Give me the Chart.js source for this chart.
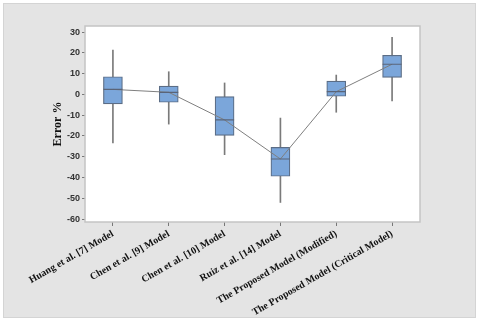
<!DOCTYPE html>
<html>
<head>
<meta charset="utf-8">
<script src="https://cdn.jsdelivr.net/npm/chart.js@4/dist/chart.umd.min.js"></script>
<style>
html,body{margin:0;padding:0;background:#fff;}
#wrap{width:480px;height:324px;position:relative;}
</style>
</head>
<body>
<div id="wrap"><canvas id="c" width="480" height="324"></canvas></div>
<script>
const categories = [
  "Huang et al. [7] Model",
  "Chen et al. [9] Model",
  "Chen et al. [10] Model",
  "Ruiz et al. [14] Model",
  "The Proposed Model (Modified)",
  "The Proposed Model (Critical Model)"
];
const whiskerLow  = [-23.3, -14.3, -29.0, -52.0, -8.6, -3.1];
const q1          = [-4.6, -3.8, -19.7, -39.4, -0.9, 8.2];
const median      = [2.4, 1.0, -12.3, -31.1, 1.3, 14.5];
const q3          = [8.5, 4.0, -1.1, -25.5, 6.4, 18.8];
const whiskerHigh = [21.3, 10.9, 5.5, -11.4, 9.3, 27.4];
const yTicks = [-60, -50, -40, -30, -20, -10, 0, 10, 20, 30];

const boxes = q1.map((v, i) => [v, q3[i]]);
const whiskers = whiskerLow.map((v, i) => [v, whiskerHigh[i]]);

const framePlugin = {
  id: 'frame',
  beforeDraw(chart) {
    const ctx = chart.ctx;
    const a = chart.chartArea;
    ctx.save();
    ctx.fillStyle = '#ffffff';
    ctx.fillRect(0, 0, chart.width, chart.height);
    ctx.fillStyle = '#e4e4e4';
    ctx.fillRect(3, 3, 473, 315);
    ctx.strokeStyle = '#d4d4d4';
    ctx.lineWidth = 1;
    ctx.strokeRect(3.5, 3.5, 472, 314);
    ctx.fillStyle = '#ffffff';
    ctx.fillRect(a.left, a.top, a.right - a.left, a.bottom - a.top);
    ctx.restore();
  },
  afterDraw(chart) {
    const ctx = chart.ctx;
    const a = chart.chartArea;
    ctx.save();
    ctx.strokeStyle = '#c4c4c4';
    ctx.lineWidth = 1.5;
    ctx.strokeRect(a.left, a.top, a.right - a.left, a.bottom - a.top);
    ctx.restore();
  }
};

new Chart(document.getElementById('c'), {
  type: 'bar',
  data: {
    labels: categories,
    datasets: [
      {
        type: 'line',
        data: median,
        borderColor: '#7f7f7f',
        borderWidth: 1,
        tension: 0,
        pointStyle: 'line',
        pointRadius: 9.5,
        pointBorderColor: '#5a6478',
        pointBorderWidth: 1.2,
        pointBackgroundColor: '#5a6478'
      },
      {
        data: boxes,
        grouped: false,
        barThickness: 19,
        backgroundColor: '#7ba6da',
        borderColor: '#5b6d86',
        borderWidth: 1.2,
        borderSkipped: false
      },
      {
        data: whiskers,
        grouped: false,
        barThickness: 1,
        backgroundColor: '#7a7a7a',
        borderWidth: 0
      }
    ]
  },
  options: {
    responsive: false,
    animation: false,
    devicePixelRatio: 1,
    layout: { padding: { left: 0, right: 60, top: 26, bottom: 0 } },
    plugins: { legend: { display: false }, tooltip: { enabled: false } },
    scales: {
      x: {
        offset: true,
        grid: { display: true, drawOnChartArea: false, offset: false, tickLength: 4, color: '#777' },
        border: { display: false },
        ticks: {
          autoSkip: false,
          minRotation: 30,
          maxRotation: 30,
          padding: 2,
          color: '#111',
          font: { family: 'Liberation Serif', weight: 'bold', size: 10 }
        },
        afterFit(s) { s.height = 102; }
      },
      y: {
        min: -61.4,
        max: 32.9,
        grid: { display: true, drawOnChartArea: false, tickLength: 3, color: '#777' },
        border: { display: false },
        afterBuildTicks(s) { s.ticks = yTicks.map(v => ({ value: v })); },
        ticks: {
          padding: 2,
          color: '#333',
          font: { family: 'Liberation Sans', weight: 'bold', size: 9 }
        },
        title: {
          display: true,
          text: 'Error %',
          color: '#111',
          font: { family: 'Liberation Serif', weight: 'bold', size: 12 },
          padding: { top: 51, bottom: 0 }
        },
        afterFit(s) { s.width = 85; }
      }
    }
  },
  plugins: [framePlugin]
});
</script>
</body>
</html>
